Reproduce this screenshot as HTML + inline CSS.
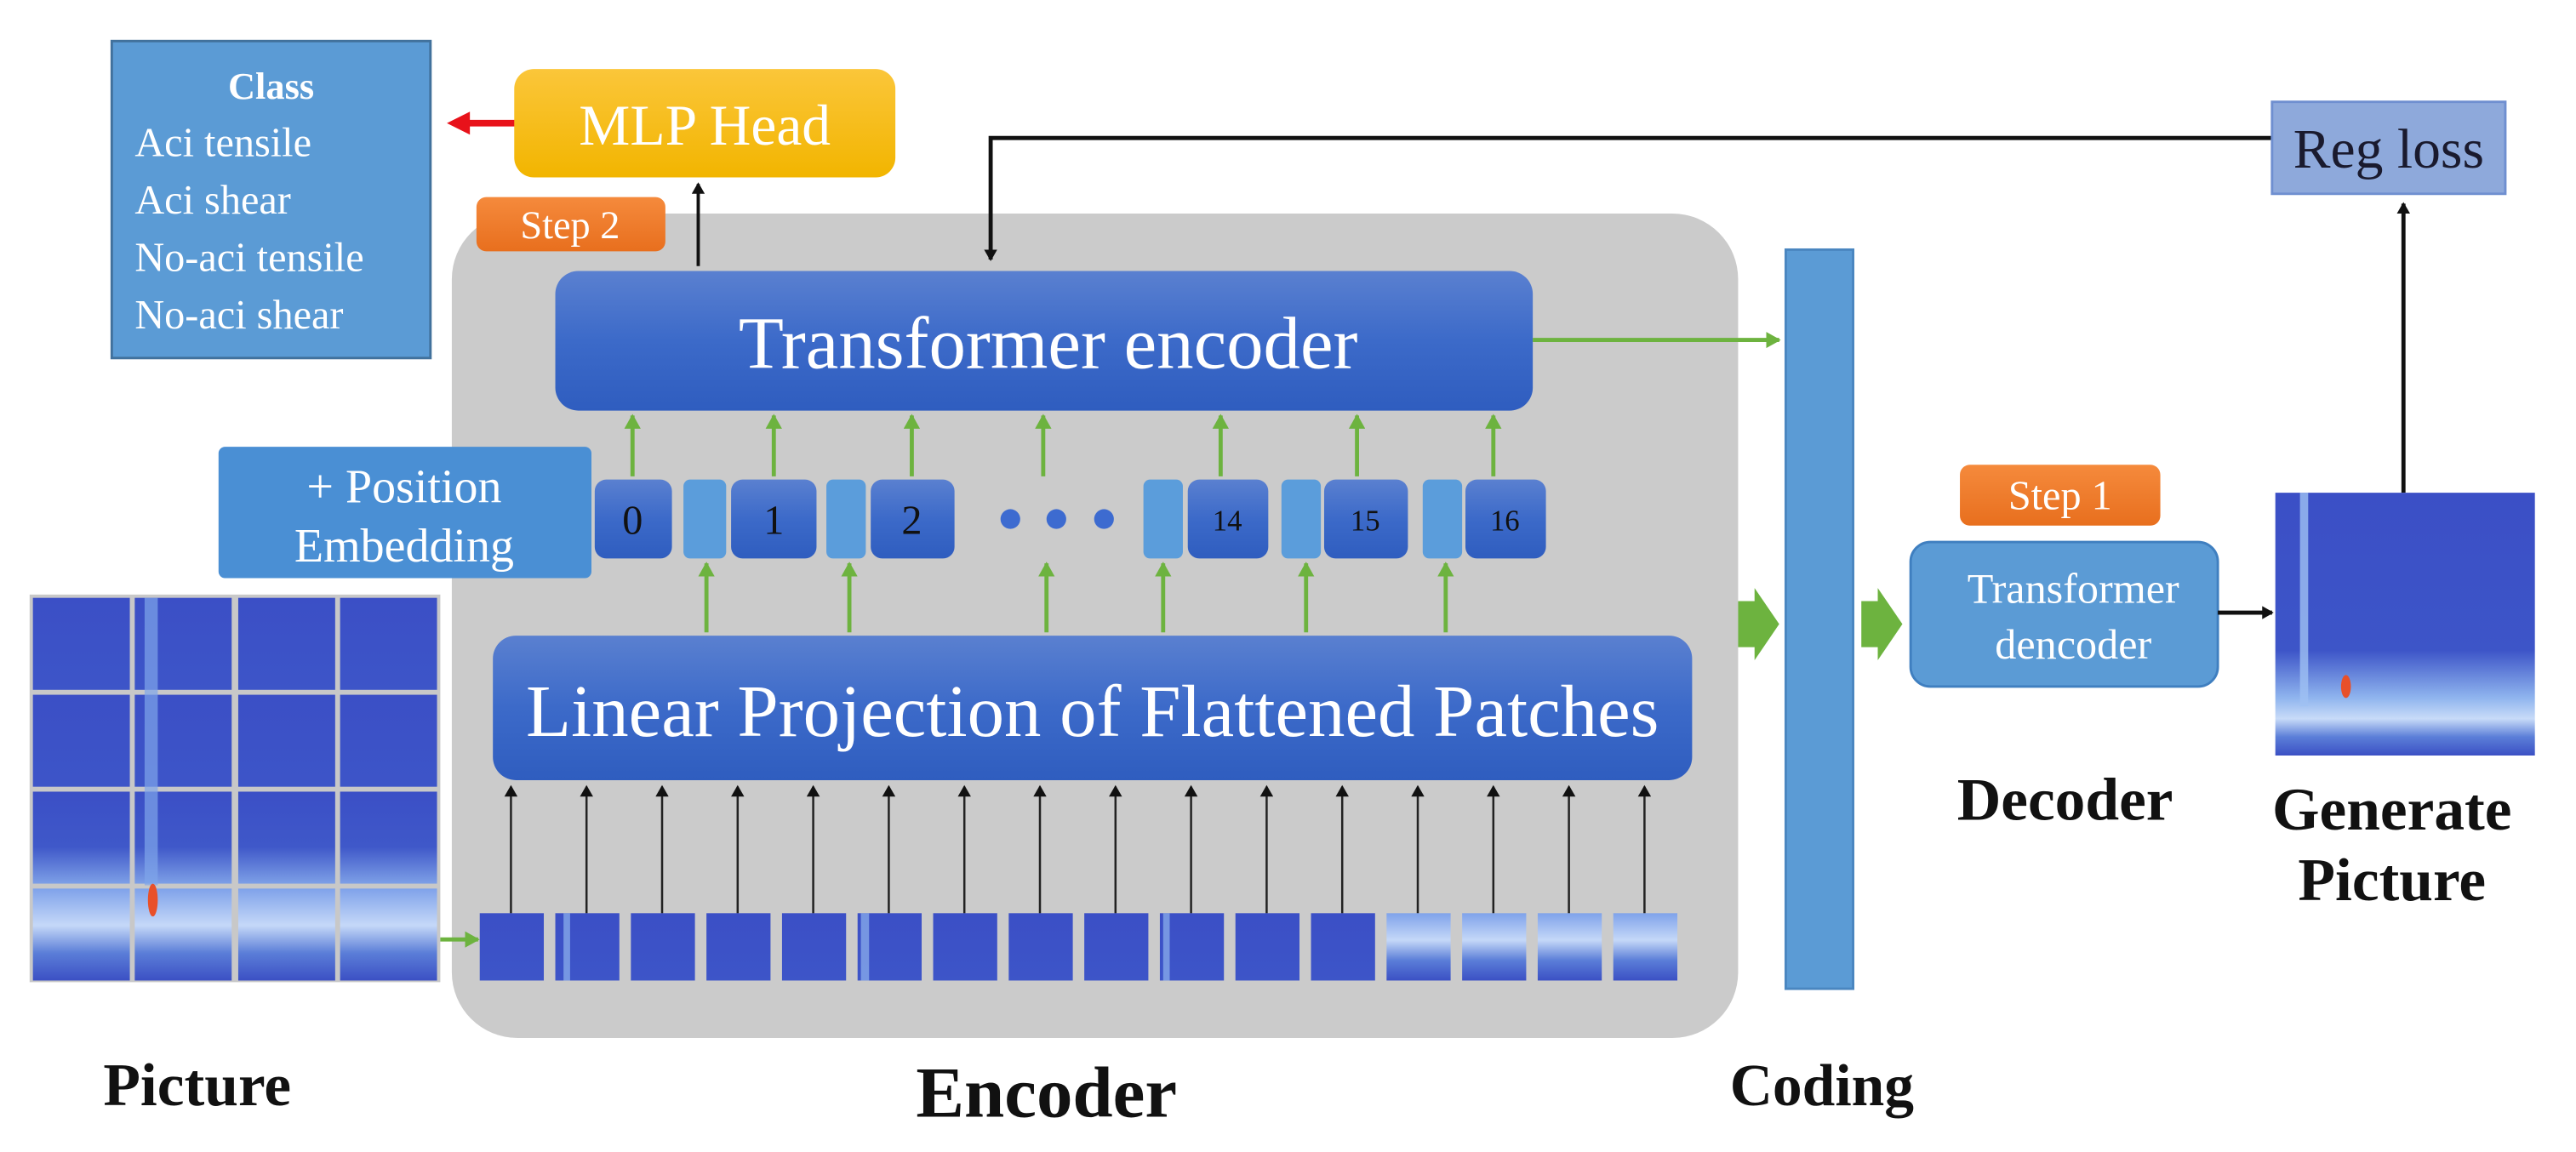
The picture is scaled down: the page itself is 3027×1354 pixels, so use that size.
<!DOCTYPE html>
<html><head><meta charset="utf-8"><style>
html,body{margin:0;padding:0;background:#fff;}
svg{display:block;}
text{font-family:"Liberation Serif",serif;}
</style></head><body>
<svg width="3027" height="1354" viewBox="0 0 1568 701.4" xmlns="http://www.w3.org/2000/svg">
<defs>
<linearGradient id="blue" x1="0" y1="0" x2="0" y2="1"><stop offset="0" stop-color="#5a80d0"/><stop offset="0.5" stop-color="#3c6ac9"/><stop offset="1" stop-color="#2f5dbf"/></linearGradient>
<linearGradient id="yel" x1="0" y1="0" x2="0" y2="1"><stop offset="0" stop-color="#fbc63a"/><stop offset="1" stop-color="#f2b500"/></linearGradient>
<linearGradient id="org" x1="0" y1="0" x2="0" y2="1"><stop offset="0" stop-color="#f58a3c"/><stop offset="1" stop-color="#e86f1e"/></linearGradient>
<linearGradient id="spec" x1="0" y1="0" x2="0" y2="1"><stop offset="0" stop-color="#3b4fc6"/><stop offset="0.6" stop-color="#3d55c8"/><stop offset="0.78" stop-color="#8fb4ee"/><stop offset="0.86" stop-color="#c8dbf8"/><stop offset="0.93" stop-color="#5b7ed8"/><stop offset="1" stop-color="#3b50c4"/></linearGradient>
<linearGradient id="specT" x1="0" y1="0" x2="0" y2="1"><stop offset="0" stop-color="#3b4fc6"/><stop offset="1" stop-color="#3d55c8"/></linearGradient>
<linearGradient id="specB" x1="0" y1="0" x2="0" y2="1"><stop offset="0" stop-color="#7fa2ea"/><stop offset="0.4" stop-color="#c5d8f8"/><stop offset="0.7" stop-color="#5b7ed8"/><stop offset="1" stop-color="#3b50c4"/></linearGradient>
<linearGradient id="spec3" x1="0" y1="0" x2="0" y2="1"><stop offset="0" stop-color="#3b4fc6"/><stop offset="0.6" stop-color="#3f58c9"/><stop offset="1" stop-color="#7d9fe6"/></linearGradient>
<marker id="ak" markerWidth="8" markerHeight="8" refX="6" refY="4" orient="auto" markerUnits="userSpaceOnUse"><path d="M0,0 L7,4 L0,8 Z" fill="#111"/></marker>
<marker id="ag" markerWidth="10" markerHeight="10" refX="8" refY="5" orient="auto" markerUnits="userSpaceOnUse"><path d="M0,0 L9,5 L0,10 Z" fill="#6db33f"/></marker>
</defs>

<rect x="68" y="25" width="194" height="193" fill="#5b9bd5" stroke="#41719c" stroke-width="1.5"/>
<text x="165" y="60" fill="#fff" font-size="23" font-weight="bold" text-anchor="middle">Class</text>
<g fill="#fff" font-size="25"><text x="82" y="95">Aci tensile</text><text x="82" y="130">Aci shear</text><text x="82" y="165">No-aci tensile</text><text x="82" y="200">No-aci shear</text></g>
<line x1="315" y1="75" x2="284" y2="75" stroke="#e8121a" stroke-width="4"/>
<path d="M272,75 L286,68 L286,82 Z" fill="#e8121a"/>
<rect x="313" y="42" width="232" height="66" rx="12" fill="url(#yel)"/>
<text x="429" y="88" fill="#fff" font-size="35" text-anchor="middle">MLP Head</text>

<rect x="275" y="130" width="783" height="502" rx="40" fill="#cbcbcb"/>
<rect x="290" y="120" width="115" height="33" rx="6" fill="url(#org)"/>
<text x="347" y="145" fill="#fff" font-size="24" text-anchor="middle">Step 2</text>
<line x1="425" y1="162" x2="425" y2="112" stroke="#111" stroke-width="2" marker-end="url(#ak)"/>

<polyline points="1383,84 603,84 603,158" fill="none" stroke="#111" stroke-width="2.5" marker-end="url(#ak)"/>
<rect x="1383" y="62" width="142" height="56" fill="#8ea9db" stroke="#6f8fd0" stroke-width="1.5"/>
<text x="1454" y="102" fill="#1a1a2e" font-size="34" text-anchor="middle">Reg loss</text>
<line x1="1463" y1="300" x2="1463" y2="124" stroke="#111" stroke-width="2.5" marker-end="url(#ak)"/>

<rect x="338" y="165" width="595" height="85" rx="14" fill="url(#blue)"/>
<text x="638" y="224" fill="#fff" font-size="45" text-anchor="middle">Transformer encoder</text>
<line x1="933" y1="207" x2="1083" y2="207" stroke="#6db33f" stroke-width="2.5" marker-end="url(#ag)"/>

<rect x="1087" y="152" width="41" height="450" fill="#5b9bd5" stroke="#4a86c0" stroke-width="1.5"/>

<rect x="133" y="272" width="227" height="80" rx="4" fill="#4a8fd4"/>
<text x="246" y="306" fill="#fff" font-size="29" text-anchor="middle">+ Position</text>
<text x="246" y="342" fill="#fff" font-size="29" text-anchor="middle">Embedding</text>

<g fill="url(#blue)">
<rect x="362" y="292" width="47" height="48" rx="7"/>
<rect x="445" y="292" width="52" height="48" rx="7"/>
<rect x="530" y="292" width="51" height="48" rx="7"/>
<rect x="723" y="292" width="49" height="48" rx="7"/>
<rect x="806" y="292" width="51" height="48" rx="7"/>
<rect x="892" y="292" width="49" height="48" rx="7"/>
</g>
<g fill="#5b9ddb">
<rect x="416" y="292" width="26" height="48" rx="4"/>
<rect x="503" y="292" width="24" height="48" rx="4"/>
<rect x="696" y="292" width="24" height="48" rx="4"/>
<rect x="780" y="292" width="24" height="48" rx="4"/>
<rect x="866" y="292" width="24" height="48" rx="4"/>
</g>
<g fill="#111" font-size="25" text-anchor="middle">
<text x="385" y="325">0</text><text x="471" y="325">1</text><text x="555" y="325">2</text>
<text x="747" y="323" font-size="18">14</text><text x="831" y="323" font-size="18">15</text><text x="916" y="323" font-size="18">16</text>
</g>
<g fill="#3d6bd0"><circle cx="615" cy="316" r="6"/><circle cx="643" cy="316" r="6"/><circle cx="672" cy="316" r="6"/></g>

<g stroke="#6db33f" stroke-width="2.5" marker-end="url(#ag)">
<line x1="385" y1="290" x2="385" y2="253"/><line x1="471" y1="290" x2="471" y2="253"/><line x1="555" y1="290" x2="555" y2="253"/><line x1="635" y1="290" x2="635" y2="253"/><line x1="743" y1="290" x2="743" y2="253"/><line x1="826" y1="290" x2="826" y2="253"/><line x1="909" y1="290" x2="909" y2="253"/>
<line x1="430" y1="385" x2="430" y2="343"/><line x1="517" y1="385" x2="517" y2="343"/><line x1="637" y1="385" x2="637" y2="343"/><line x1="708" y1="385" x2="708" y2="343"/><line x1="795" y1="385" x2="795" y2="343"/><line x1="880" y1="385" x2="880" y2="343"/>
</g>

<rect x="300" y="387" width="730" height="88" rx="14" fill="url(#blue)"/>
<text x="665" y="448" fill="#fff" font-size="45" text-anchor="middle">Linear Projection of Flattened Patches</text>

<g stroke="#222" stroke-width="1.3" marker-end="url(#ak)">
<line x1="311" y1="556" x2="311" y2="479"/><line x1="357" y1="556" x2="357" y2="479"/><line x1="403" y1="556" x2="403" y2="479"/><line x1="449" y1="556" x2="449" y2="479"/><line x1="495" y1="556" x2="495" y2="479"/><line x1="541" y1="556" x2="541" y2="479"/><line x1="587" y1="556" x2="587" y2="479"/><line x1="633" y1="556" x2="633" y2="479"/><line x1="679" y1="556" x2="679" y2="479"/><line x1="725" y1="556" x2="725" y2="479"/><line x1="771" y1="556" x2="771" y2="479"/><line x1="817" y1="556" x2="817" y2="479"/><line x1="863" y1="556" x2="863" y2="479"/><line x1="909" y1="556" x2="909" y2="479"/><line x1="955" y1="556" x2="955" y2="479"/><line x1="1001" y1="556" x2="1001" y2="479"/>
</g>
<g fill="url(#specT)">
<rect x="292" y="556" width="39" height="41"/><rect x="338" y="556" width="39" height="41"/><rect x="384" y="556" width="39" height="41"/><rect x="430" y="556" width="39" height="41"/><rect x="476" y="556" width="39" height="41"/><rect x="522" y="556" width="39" height="41"/><rect x="568" y="556" width="39" height="41"/><rect x="614" y="556" width="39" height="41"/><rect x="660" y="556" width="39" height="41"/><rect x="706" y="556" width="39" height="41"/><rect x="752" y="556" width="39" height="41"/><rect x="798" y="556" width="39" height="41"/>
</g>
<g fill="url(#specB)">
<rect x="844" y="556" width="39" height="41"/><rect x="890" y="556" width="39" height="41"/><rect x="936" y="556" width="39" height="41"/><rect x="982" y="556" width="39" height="41"/>
</g>
<g fill="#8fb4ee" opacity="0.7"><rect x="343" y="556" width="4" height="41"/><rect x="524" y="556" width="5" height="41"/><rect x="708" y="556" width="4" height="41"/></g>

<rect x="18" y="362" width="250" height="236" fill="#c8c8c8"/>
<g fill="url(#specT)">
<rect x="20" y="364" width="59" height="56"/><rect x="82" y="364" width="59" height="56"/><rect x="145" y="364" width="59" height="56"/><rect x="207" y="364" width="59" height="56"/>
<rect x="20" y="423" width="59" height="56"/><rect x="82" y="423" width="59" height="56"/><rect x="145" y="423" width="59" height="56"/><rect x="207" y="423" width="59" height="56"/>
</g>
<g fill="url(#spec3)">
<rect x="20" y="482" width="59" height="56"/><rect x="82" y="482" width="59" height="56"/><rect x="145" y="482" width="59" height="56"/><rect x="207" y="482" width="59" height="56"/>
</g>
<g fill="url(#specB)">
<rect x="20" y="541" width="59" height="56"/><rect x="82" y="541" width="59" height="56"/><rect x="145" y="541" width="59" height="56"/><rect x="207" y="541" width="59" height="56"/>
</g>
<rect x="88" y="364" width="8" height="175" fill="#7fa5ea" opacity="0.7"/>
<ellipse cx="93" cy="548" rx="3" ry="10" fill="#e8502a"/>
<line x1="268" y1="572" x2="291" y2="572" stroke="#6db33f" stroke-width="2.5" marker-end="url(#ag)"/>

<path d="M1058,366 L1068,366 L1068,358 L1083,380 L1068,402 L1068,394 L1058,394 Z" fill="#6db33f"/>
<path d="M1133,366 L1143,366 L1143,358 L1158,380 L1143,402 L1143,394 L1133,394 Z" fill="#6db33f"/>

<rect x="1193" y="283" width="122" height="37" rx="6" fill="url(#org)"/>
<text x="1254" y="310" fill="#fff" font-size="25" text-anchor="middle">Step 1</text>
<rect x="1163" y="330" width="187" height="88" rx="12" fill="#5b9bd5" stroke="#3f7fc0" stroke-width="1.5"/>
<text x="1262" y="367" fill="#fff" font-size="26" text-anchor="middle">Transformer</text>
<text x="1262" y="401" fill="#fff" font-size="26" text-anchor="middle">dencoder</text>
<line x1="1350" y1="373" x2="1383" y2="373" stroke="#111" stroke-width="2.5" marker-end="url(#ak)"/>

<rect x="1385" y="300" width="158" height="160" fill="url(#spec)"/>
<rect x="1400" y="300" width="5" height="130" fill="#9fc0f2" opacity="0.8"/>
<ellipse cx="1428" cy="418" rx="3" ry="7" fill="#e8502a"/>

<g font-weight="bold" fill="#111" text-anchor="middle">
<text x="120" y="673" font-size="37">Picture</text>
<text x="637" y="680" font-size="44">Encoder</text>
<text x="1109" y="673" font-size="36">Coding</text>
<text x="1257" y="499" font-size="37">Decoder</text>
<text x="1456" y="505" font-size="37">Generate</text>
<text x="1456" y="548" font-size="37">Picture</text>
</g>
</svg>
</body></html>
